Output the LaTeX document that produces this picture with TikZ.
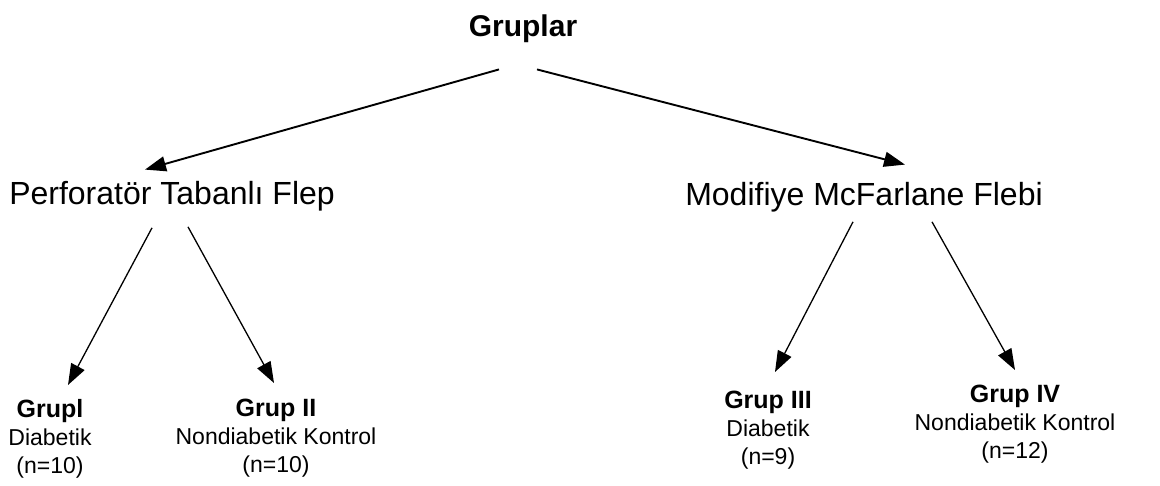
\documentclass[tikz,border=0pt]{standalone}
\usepackage{fontspec}
\setmainfont{Liberation Sans}
\usetikzlibrary{arrows.meta}

\begin{document}
\begin{tikzpicture}[x=1pt, y=-1pt, >={Triangle[length=21pt,width=15pt]},
	grupbaslik/.style={inner sep=0pt, anchor=base, font=\fontsize{30}{34}\selectfont\bfseries},
	flep/.style={inner sep=0pt, anchor=base, font=\fontsize{32}{38}\selectfont},
	altgrup/.style={inner sep=0pt, anchor=north, align=center, font=\fontsize{23}{28}\selectfont},
	ustok/.style={->, line width=1.9pt},
	altok/.style={->, line width=1.3pt}]

	\useasboundingbox (0,0) rectangle (1160,486);

	% Ana baslik
	\node[grupbaslik] (grup) at (523,37) {Gruplar};

	% Flep turleri
	\node[flep] (perf) at (172,205) {Perforatör Tabanlı Flep};
	\node[flep] (mcf) at (864,206) {Modifiye McFarlane Flebi};

	% Alt gruplar
	\node[altgrup] (g1) at (50,399) {{\fontsize{25}{28}\selectfont\bfseries Grupl}\\Diabetik\\(n=10)};
	\node[altgrup] (g2) at (276,399) {{\fontsize{25}{28}\selectfont\bfseries Grup II}\\Nondiabetik Kontrol\\(n=10)};
	\node[altgrup] (g3) at (768,391) {{\fontsize{25}{28}\selectfont\bfseries Grup III}\\Diabetik\\(n=9)};
	\node[altgrup] (g4) at (1015,385) {{\fontsize{25}{28}\selectfont\bfseries Grup IV}\\Nondiabetik Kontrol\\(n=12)};

	% Gruplar -> flepler
	\draw[ustok] ([xshift=-24pt,yshift=-26pt]grup.south) -- ([xshift=-27pt,yshift=12pt]perf.north);
	\draw[ustok] ([xshift=14pt,yshift=-26pt]grup.south) -- ([xshift=41pt,yshift=18pt]mcf.north);

	% Flepler -> alt gruplar
	\draw[altok] ([xshift=-20pt,yshift=-16pt]perf.south) -- ([xshift=18pt,yshift=14pt]g1.north);
	\draw[altok] ([xshift=16pt,yshift=-15pt]perf.south) -- ([xshift=-2pt,yshift=16pt]g2.north);
	\draw[altok] ([xshift=-11pt,yshift=-9pt]mcf.south) -- ([xshift=7pt,yshift=19pt]g3.north);
	\draw[altok] ([xshift=68pt,yshift=-9pt]mcf.south) -- ([xshift=0pt,yshift=15pt]g4.north);

\end{tikzpicture}
\end{document}
